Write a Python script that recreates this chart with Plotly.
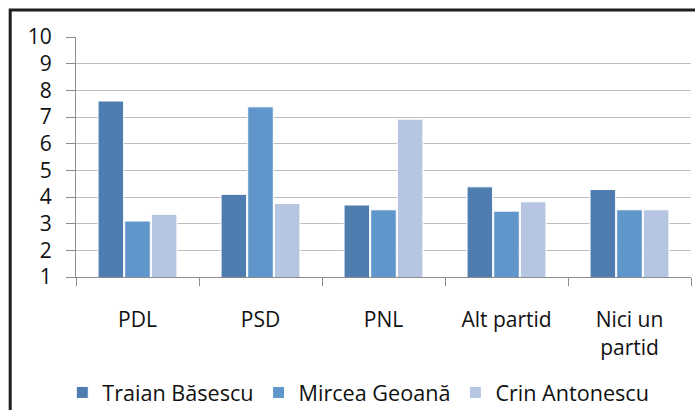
import plotly.graph_objects as go

categories = ["PDL", "PSD", "PNL", "Alt partid", "Nici un<br>partid"]
series_names = ["Traian Băsescu", "Mircea Geoană", "Crin Antonescu"]
traian = [7.6, 4.1, 3.7, 4.38, 4.28]
mircea = [3.1, 7.38, 3.52, 3.47, 3.52]
crin = [3.35, 3.76, 6.92, 3.82, 3.52]
colors = ["#4F7DAF", "#6096CB", "#B6C6E2"]
y_ticks = [1, 2, 3, 4, 5, 6, 7, 8, 9, 10]

FONT = "Open Sans"

fig = go.Figure()
for name, vals, col in zip(series_names, [traian, mircea, crin], colors):
    fig.add_trace(go.Bar(
        x=categories, y=vals, name=name,
        marker=dict(color=col, line=dict(color="white", width=1)),
    ))

fig.update_layout(
    width=695, height=410,
    margin=dict(l=76, r=4, t=37, b=133, autoexpand=False),
    paper_bgcolor="white", plot_bgcolor="white",
    barmode="group", bargap=0.35, bargroupgap=0.04,
    font=dict(family=FONT, size=21, color="#111111"),
    showlegend=True,
    legend=dict(orientation="h", x=0.459, xanchor="center", y=-0.483, yanchor="middle",
                font=dict(size=21.6), traceorder="normal", itemwidth=30),
    xaxis=dict(
        automargin=False,
        showline=True, linecolor="#8C8C8C", linewidth=1,
        ticks="outside", tickson="boundaries", ticklen=8, tickcolor="#8C8C8C",
        showgrid=False, tickfont=dict(size=21), ticklabelstandoff=24,
    ),
    yaxis=dict(
        automargin=False,
        range=[1, 10], tickvals=y_ticks, ticktext=[str(v) for v in y_ticks],
        showline=True, linecolor="#8C8C8C", linewidth=1,
        ticks="outside", ticklen=9, tickcolor="#8C8C8C",
        showgrid=True, gridcolor="#BEBEBE", gridwidth=1,
        zeroline=False, tickfont=dict(size=21), ticklabelstandoff=10,
    ),
)

fig.add_shape(type="rect", xref="paper", yref="paper",
              x0=-0.107, x1=1.02, y0=-0.6, y1=1.1125,
              line=dict(color="#1e1e1e", width=3), fillcolor="rgba(0,0,0,0)", layer="above")

fig.write_html("out.html", config={"displayModeBar": False},
               post_script="document.body.style.margin='0';document.body.style.overflow='hidden';")
